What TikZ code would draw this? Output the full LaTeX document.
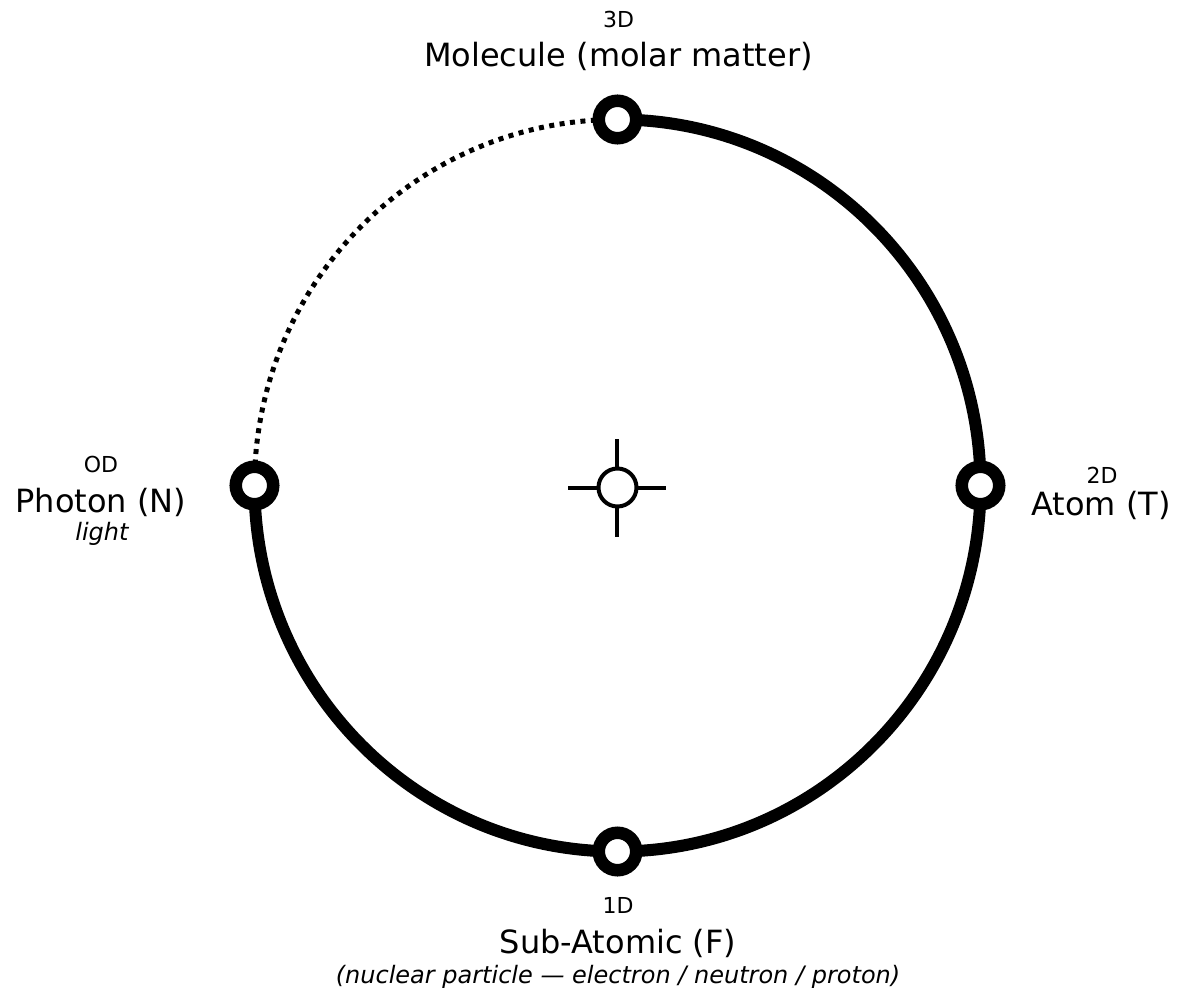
\documentclass[tikz,border=0pt]{standalone}
\usepackage{fontspec}
\setmainfont{DejaVu Sans}
\usetikzlibrary{positioning, backgrounds}

\begin{document}
\begin{tikzpicture}[x=1pt, y=1pt,
    state/.style={circle, draw=black, fill=white, line width=12.5pt,
                  minimum size=37.5pt, inner sep=0pt},
    hub/.style={circle, draw=black, fill=white, line width=4pt,
                minimum size=38pt, inner sep=0pt},
    track/.style={line width=12pt},
    faint/.style={line width=5pt, dash pattern=on 5pt off 5.5pt},
    cross/.style={line width=4pt},
    title/.style={font=\fontsize{32}{38}\selectfont, anchor=base, inner sep=0pt},
    dimtag/.style={font=\fontsize{22}{26}\selectfont, anchor=base, inner sep=0pt},
    note/.style={font=\fontsize{24}{28}\selectfont\itshape, anchor=base, inner sep=0pt}
  ]
  \useasboundingbox (-617.5,-506.5) rectangle (563.5,487.5);

  % the four states on the ring
  \coordinate (ring) at (0,2);
  \node[state] (mol) at ([yshift=366pt]ring) {};
  \node[state] (atom) at ([xshift=363pt]ring) {};
  \node[state] (sub) at ([yshift=-366pt]ring) {};
  \node[state] (photon) at ([xshift=-363pt]ring) {};
  \node[hub] (core) at (0,0) {};

  \begin{pgfonlayer}{background}
    \draw[track] (mol.center) arc[start angle=90, end angle=-180, x radius=363pt, y radius=366pt];
    \draw[faint] (photon.center) arc[start angle=180, end angle=90, x radius=363pt, y radius=366pt];
    \draw[cross] ([xshift=-49pt]core.center) -- ([xshift=49pt]core.center);
    \draw[cross] ([yshift=-49pt]core.center) -- ([yshift=49pt]core.center);
  \end{pgfonlayer}

  % labels
  \node[title] (molname) at (1,420.5) {Molecule (molar matter)};
  \node[dimtag] (mold) at ([yshift=39pt]molname.base) {3D};

  \node[title] (atomname) at (483.5,-27.5) {Atom (T)};
  \node[dimtag] (atomd) at ([shift={(1pt,32pt)}]atomname.base) {2D};

  \node[title] (subname) at (0.5,-465.5) {Sub-Atomic (F)};
  \node[dimtag] (subd) at ([yshift=40pt]subname.base) {1D};
  \node[note] (subnote) at ([yshift=-30pt]subname.base) {(nuclear particle — electron / neutron / proton)};

  \node[title] (photonname) at (-516.5,-24.5) {Photon (N)};
  \node[dimtag] (photond) at ([yshift=40pt]photonname.base) {OD};
  \node[note] (photonnote) at ([shift={(1pt,-28pt)}]photonname.base) {light};
\end{tikzpicture}
\end{document}
